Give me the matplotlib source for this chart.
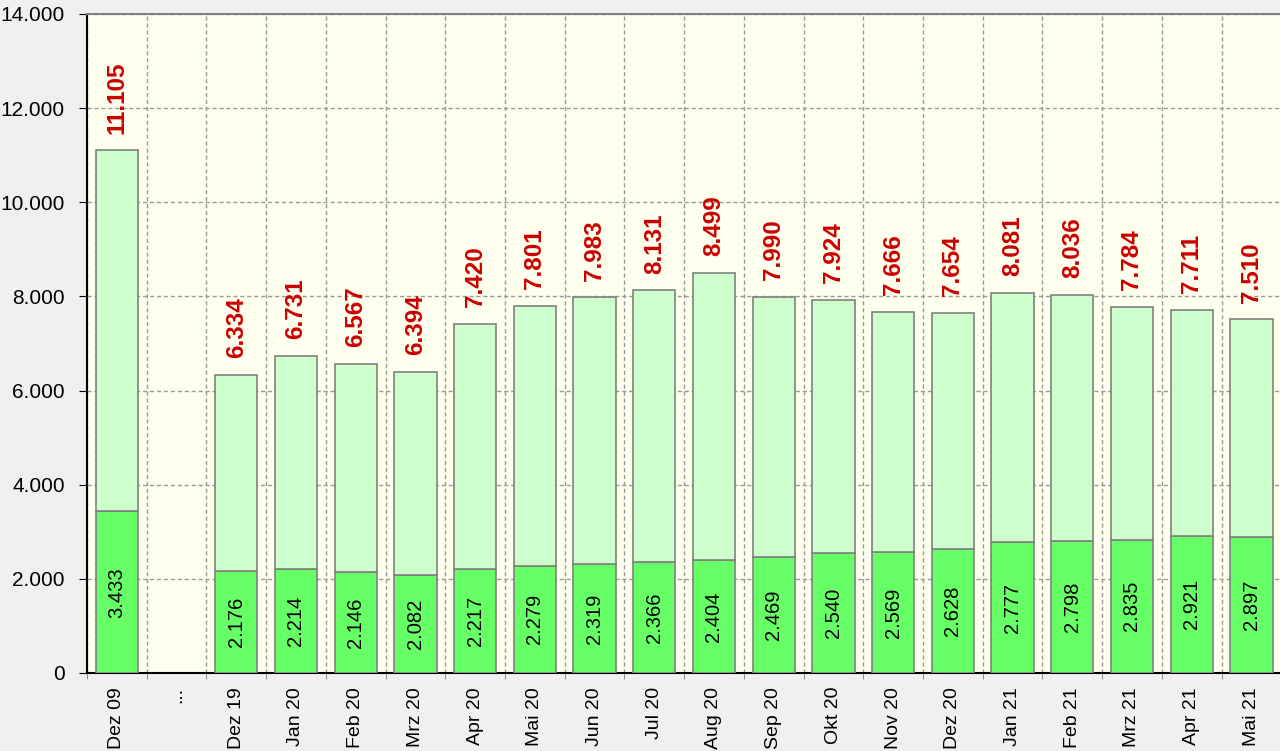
import matplotlib
matplotlib.use("Agg")
import matplotlib.pyplot as plt
import numpy as np

plt.rcParams['font.family'] = ['Liberation Sans', 'DejaVu Sans']

categories = ["Dez 09", "...", "Dez 19", "Jan 20", "Feb 20", "Mrz 20", "Apr 20", "Mai 20",
              "Jun 20", "Jul 20", "Aug 20", "Sep 20", "Okt 20", "Nov 20", "Dez 20",
              "Jan 21", "Feb 21", "Mrz 21", "Apr 21", "Mai 21"]
totals = [11105, None, 6334, 6731, 6567, 6394, 7420, 7801, 7983, 8131, 8499, 7990,
          7924, 7666, 7654, 8081, 8036, 7784, 7711, 7510]
lower = [3433, None, 2176, 2214, 2146, 2082, 2217, 2279, 2319, 2366, 2404, 2469,
         2540, 2569, 2628, 2777, 2798, 2835, 2921, 2897]
yticks = [0, 2000, 4000, 6000, 8000, 10000, 12000, 14000]


def fmt(v):
    return f"{v:,.0f}".replace(",", ".")


fig = plt.figure(figsize=(12.8, 7.51), dpi=100, facecolor="#F0F0F0")
ax = fig.add_axes([87 / 1280, 78 / 751, 1 - 87 / 1280 + 0.001, (673 - 14) / 751])
ax.set_facecolor("#FFFFEE")

x = np.arange(len(categories))
tot = np.array([np.nan if t is None else t for t in totals], dtype=float)
low = np.array([np.nan if t is None else t for t in lower], dtype=float)
up = tot - low
width = 0.71

ax.bar(x, low, width=width, color="#66FF66", edgecolor="#808080", linewidth=1.2, zorder=3)
ax.bar(x, up, bottom=low, width=width, color="#CCFFCC", edgecolor="#808080", linewidth=1.2, zorder=3)

for xi, t, l in zip(x, tot, low):
    if np.isnan(t):
        continue
    ax.annotate(fmt(t), xy=(xi, t), xytext=(0, 12), textcoords="offset points",
                rotation=90, ha="center", va="bottom", color="#CC0000",
                fontsize=17.5, fontweight="bold", zorder=5)
    ax.text(xi, l / 2, fmt(l), rotation=90, ha="center", va="center",
            color="black", fontsize=14.5, zorder=5)

ax.set_xlim(-0.5, len(categories) - 0.5)
ax.set_ylim(0, 14000)
ax.set_yticks(yticks)
ax.set_yticklabels([fmt(v) for v in yticks], fontsize=15)

ax.set_xticks(x)
ax.set_xticklabels(categories, rotation=90, fontsize=14)
ax.tick_params(axis="x", which="major", length=0, pad=10)
ax.set_xticks(np.arange(-0.5, len(categories), 1), minor=True)
ax.tick_params(axis="x", which="minor", length=4, color="#808080")
ax.tick_params(axis="y", length=6, pad=10, color="black")

ax.grid(axis="y", which="major", linestyle=(0, (3, 2)), color="#999999", linewidth=1, zorder=0)
ax.grid(axis="x", which="minor", linestyle=(0, (3, 2)), color="#999999", linewidth=1, zorder=0)
ax.grid(axis="x", which="major", visible=False)
ax.set_axisbelow(True)

ax.spines["left"].set_color("black")
ax.spines["left"].set_linewidth(1.5)
ax.spines["bottom"].set_color("black")
ax.spines["bottom"].set_linewidth(1.5)
ax.spines["top"].set_color("#808080")
ax.spines["top"].set_linewidth(1.5)
ax.spines["right"].set_visible(False)

fig.savefig("out.png", dpi=100, facecolor=fig.get_facecolor())
